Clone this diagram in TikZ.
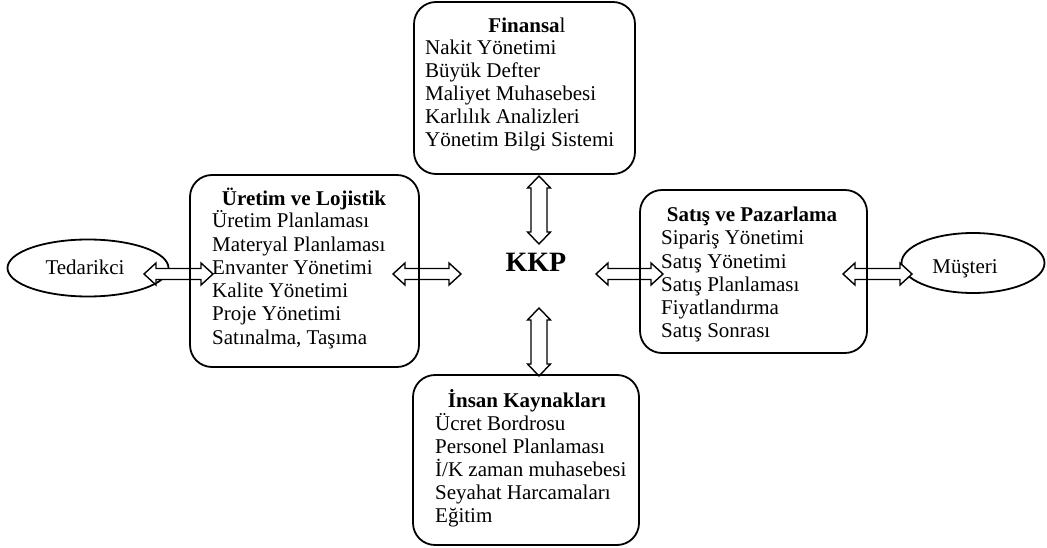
\documentclass[tikz,border=0pt]{standalone}
\usepackage{fontspec}
\setmainfont{Liberation Serif}
\usetikzlibrary{calc,shapes.geometric}

\tikzset{
  panel/.style={draw, line width=1.8pt, rounded corners=22pt, inner sep=0pt},
  party/.style={draw, ellipse, line width=1.8pt, inner sep=0pt},
  label/.style={inner sep=0pt, font=\fontsize{21}{24}\selectfont},
  blockarrow/.style={draw, fill=white, line width=1.4pt, line join=miter},
  item/.style={anchor=base west, inner sep=0pt, font=\fontsize{21}{24}\selectfont},
  head/.style={anchor=base, inner sep=0pt, font=\fontsize{21}{24}\bfseries\selectfont},
}

% horizontal two-headed block arrow from #1 (left tip) to #2 (right tip)
\newcommand\hdarrow[2]{%
  \draw[blockarrow] (#1) -- ($(#1)+(12,-11)$) -- ($(#1)+(12,-5.5)$)
    -- ($(#2)+(-12,-5.5)$) -- ($(#2)+(-12,-11)$) -- (#2)
    -- ($(#2)+(-12,11)$) -- ($(#2)+(-12,5.5)$)
    -- ($(#1)+(12,5.5)$) -- ($(#1)+(12,11)$) -- cycle;}
% vertical two-headed block arrow from #1 (top tip) to #2 (bottom tip)
\newcommand\vdarrow[2]{%
  \draw[blockarrow] (#1) -- ($(#1)+(-11.5,12)$) -- ($(#1)+(-8,12)$)
    -- ($(#2)+(-8,-12)$) -- ($(#2)+(-11.5,-12)$) -- (#2)
    -- ($(#2)+(11.5,-12)$) -- ($(#2)+(8,-12)$)
    -- ($(#1)+(8,12)$) -- ($(#1)+(11.5,12)$) -- cycle;}

\begin{document}
\begin{tikzpicture}[x=1pt,y=-1pt]
  \useasboundingbox (0,0) rectangle (1047,548);

  % outside parties
  \node[party, minimum width=161pt, minimum height=57pt] (ted) at (88,268) {};
  \node[label, anchor=base] (ted-t) at (85,274) {Tedarikci};
  \node[party, minimum width=143pt, minimum height=60pt] (mus) at (973,263) {};
  \node[label, anchor=base] (mus-t) at (965,273) {Müşteri};

  % arrow end points
  \coordinate (a1l) at (144,274);  \coordinate (a1r) at (213,274);
  \coordinate (a2l) at (393,274);  \coordinate (a2r) at (461,274);
  \coordinate (a3l) at (596,274);  \coordinate (a3r) at (663,274);
  \coordinate (a4l) at (843,274);  \coordinate (a4r) at (912,274);
  \coordinate (a5t) at (539,176);  \coordinate (a5b) at (539,244);
  \coordinate (a6t) at (539,308);  \coordinate (a6b) at (539,376);

  \hdarrow{a1l}{a1r}
  \hdarrow{a2l}{a2r}
  \hdarrow{a3l}{a3r}
  \hdarrow{a4l}{a4r}
  \vdarrow{a5t}{a5b}
  \vdarrow{a6t}{a6b}

  % module panels
  \node[panel, minimum width=221pt, minimum height=172pt] (fin) at (524.5,88) {};
  \node[panel, minimum width=229pt, minimum height=192pt] (ure) at (304.5,271) {};
  \node[panel, minimum width=227pt, minimum height=163pt] (sat) at (753.5,271.5) {};
  \node[panel, minimum width=226pt, minimum height=170pt] (ins) at (526,460) {};

  % centre
  \node[font=\fontsize{28}{32}\bfseries\selectfont, anchor=base] (kkp) at (536,271) {KKP};

  % Finansal
  \node[head] (fin-h) at (527,33) {Finansa\mdseries l};
  \foreach \t [count=\i] in {Nakit Yönetimi, Büyük Defter, Maliyet Muhasebesi,
      Karlılık Analizleri, Yönetim Bilgi Sistemi}
    \node[item] (fin-\i) at (425,{55+23*(\i-1)}) {\t};

  % Üretim ve Lojistik
  \node[head] (ure-h) at (304,206) {Üretim ve Lojistik};
  \foreach \t [count=\i] in {Üretim Planlaması, Materyal Planlaması, Envanter Yönetimi,
      Kalite Yönetimi, Proje Yönetimi, {Satınalma, Taşıma}}
    \node[item] (ure-\i) at (212,{228+23.2*(\i-1)}) {\t};

  % Satış ve Pazarlama
  \node[head] (sat-h) at (752,222) {Satış ve Pazarlama};
  \foreach \t [count=\i] in {Sipariş Yönetimi, Satış Yönetimi, Satış Planlaması,
      Fiyatlandırma, Satış Sonrası}
    \node[item] (sat-\i) at (661,{245+23.2*(\i-1)}) {\t};

  % İnsan Kaynakları
  \node[head] (ins-h) at (527,407) {İnsan Kaynakları};
  \foreach \t [count=\i] in {Ücret Bordrosu, Personel Planlaması, İ/K zaman muhasebesi,
      Seyahat Harcamaları, Eğitim}
    \node[item] (ins-\i) at (435,{430+23*(\i-1)}) {\t};
\end{tikzpicture}
\end{document}
